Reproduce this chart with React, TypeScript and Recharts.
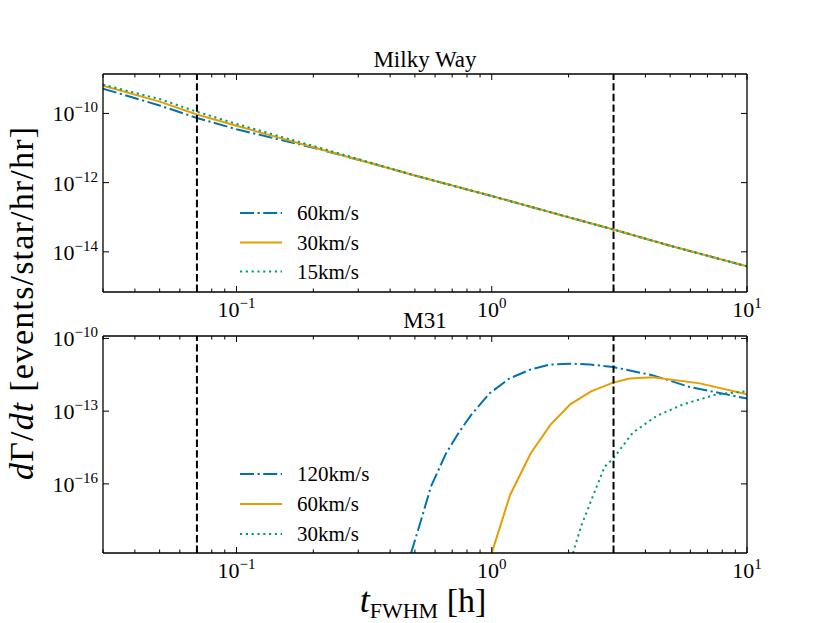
import React from "react";
import { LineChart, Line, XAxis, YAxis, ReferenceLine } from "recharts";

const FONT = "Liberation Serif, Times New Roman, DejaVu Serif, Noto Serif, serif";

// x axis: t_FWHM [h]
const tRange: [number, number] = [0.03, 10];
const xTicks = [
  0.03, 0.04, 0.05, 0.06, 0.07, 0.08, 0.09, 0.1,
  0.2, 0.3, 0.4, 0.5, 0.6, 0.7, 0.8, 0.9, 1,
  2, 3, 4, 5, 6, 7, 8, 9, 10,
];
const cutTimes = [0.07, 3];

// Milky Way panel
const mwDomain: [number, number] = [6.9e-16, 1.38e-9];
const mwTicks = [1e-14, 1e-12, 1e-10];
const mwNames = ["60km/s", "30km/s", "15km/s"];
const mwT = [0.03, 0.05, 0.07, 0.1, 0.15, 0.2, 0.3, 0.5, 1, 2, 3, 5, 10];
const mw60 = [5.2e-10, 1.7e-10, 7.4e-11, 3.5e-11, 1.7e-11, 1.02e-11, 4.6e-12, 1.6e-12, 4.1e-13, 1.0e-13, 4.4e-14, 1.5e-14, 3.8e-15];
const mw30 = [6.3e-10, 2.2e-10, 9.3e-11, 4.4e-11, 1.9e-11, 1.05e-11, 4.6e-12, 1.6e-12, 4.1e-13, 1.0e-13, 4.4e-14, 1.5e-14, 3.8e-15];
const mw15 = [6.8e-10, 2.6e-10, 1.12e-10, 5.0e-11, 2.1e-11, 1.15e-11, 4.8e-12, 1.6e-12, 4.1e-13, 1.0e-13, 4.4e-14, 1.5e-14, 3.8e-15];

// M31 panel
const m31Domain: [number, number] = [1.41e-19, 1.26e-10];
const m31Ticks = [1e-16, 1e-13, 1e-10];
const m31Names = ["120km/s", "60km/s", "30km/s"];
const m31T120 = [0.483, 0.52, 0.578, 0.662, 0.746, 0.83, 0.98, 1.17, 1.41, 1.68, 2.02, 2.42, 2.99, 4.28, 5.96, 10];
const m31R120 = [1.4e-19, 1.8e-18, 7.8e-17, 1.8e-15, 1.4e-14, 6.9e-14, 5.4e-13, 2.2e-12, 5.1e-12, 8.3e-12, 9.1e-12, 8.5e-12, 6.6e-12, 3.0e-12, 1.0e-12, 3.3e-13];
const m31T60 = [1.0, 1.18, 1.42, 1.7, 2.03, 2.45, 2.99, 3.47, 4.28, 6.53, 10];
const m31R60 = [1.4e-19, 3.5e-17, 1.8e-15, 2.8e-14, 1.9e-13, 6.6e-13, 1.5e-12, 2.2e-12, 2.5e-12, 1.4e-12, 5.0e-13];
const m31T30 = [2.08, 2.24, 2.49, 2.77, 2.99, 3.57, 4.41, 5.61, 7.59, 10];
const m31R30 = [1.4e-19, 1.8e-18, 3.1e-17, 5.2e-16, 1.1e-15, 1.3e-14, 6.2e-14, 1.9e-13, 4.9e-13, 6.6e-13];

// fast / mid / slow styles
const colors = ["#0072B2", "#E69F00", "#009E73"];
const dashes = ["14 3.5 2.2 3.5", undefined, "2.2 3.6"];

const pairs = (xs: number[], ys: number[]) => xs.map((x, i) => ({ x, y: ys[i] }));

const mwSeries = [pairs(mwT, mw60), pairs(mwT, mw30), pairs(mwT, mw15)];
const m31Series = [pairs(m31T120, m31R120), pairs(m31T60, m31R60), pairs(m31T30, m31R30)];

const axisStyle = { stroke: "#000", strokeWidth: 1.3 };

const isDecade = (v: number) => {
  const l = Math.log10(v);
  return Math.abs(l - Math.round(l)) < 1e-6;
};

function PowLabel({ x, y, v, anchor }: any) {
  const e = Math.round(Math.log10(v));
  return (
    <text x={x} y={y} textAnchor={anchor} style={{ fontFamily: FONT }} fontSize={22} fill="#000">
      10
      <tspan dy={-9} fontSize={15}>
        {e < 0 ? "\u2212" + Math.abs(e) : String(e)}
      </tspan>
    </text>
  );
}

const xTick = (side: "bottom" | "top") => (props: any) => {
  const { x, y, payload } = props;
  const v = payload.value;
  const major = isDecade(v);
  const len = major ? 6 : 3.5;
  const d = side === "bottom" ? -1 : 1;
  return (
    <g key={side + v}>
      <line x1={x} x2={x} y1={y} y2={y + d * len} stroke="#000" strokeWidth={1} />
      {side === "bottom" && major && <PowLabel x={x} y={y + 25} v={v} anchor="middle" />}
    </g>
  );
};

const yTick = (side: "left" | "right") => (props: any) => {
  const { x, y, payload } = props;
  const v = payload.value;
  const d = side === "left" ? 1 : -1;
  return (
    <g key={side + v}>
      <line x1={x} x2={x + d * 6} y1={y} y2={y} stroke="#000" strokeWidth={1} />
      {side === "left" && <PowLabel x={x - 5} y={y + 8} v={v} anchor="end" />}
    </g>
  );
};

function Panel({ top, height, marginTop, bottomAxis, yDomain, yTicks, series }: any) {
  return (
    <div style={{ position: "absolute", left: 0, top, width: 830, height }}>
      <LineChart width={830} height={height} margin={{ top: marginTop, right: 63, bottom: 0, left: 0 }}>
        <XAxis xAxisId="b" type="number" scale="log" dataKey="x" domain={tRange} allowDataOverflow
          ticks={xTicks} interval={0} tickLine={false} tickSize={0} tickMargin={0}
          height={bottomAxis} axisLine={axisStyle} tick={xTick("bottom")} />
        <XAxis xAxisId="t" orientation="top" type="number" scale="log" dataKey="x" domain={tRange} allowDataOverflow
          ticks={xTicks} interval={0} tickLine={false} tickSize={0} tickMargin={0}
          height={10} axisLine={axisStyle} tick={xTick("top")} />
        <YAxis yAxisId="l" type="number" scale="log" domain={yDomain} allowDataOverflow
          ticks={yTicks} interval={0} tickLine={false} tickSize={0} tickMargin={0}
          width={103} axisLine={axisStyle} tick={yTick("left")} />
        <YAxis yAxisId="r" orientation="right" type="number" scale="log" domain={yDomain} allowDataOverflow
          ticks={yTicks} interval={0} tickLine={false} tickSize={0} tickMargin={0}
          width={20} axisLine={axisStyle} tick={yTick("right")} />
        {series.map((data: any, i: number) => (
          <Line key={i} xAxisId="b" yAxisId="l" data={data} dataKey="y" type="linear"
            stroke={colors[i]} strokeWidth={2} strokeDasharray={dashes[i]}
            dot={false} activeDot={false} isAnimationActive={false} />
        ))}
        {cutTimes.map((c) => (
          <ReferenceLine key={c} xAxisId="b" yAxisId="l" x={c} stroke="#000"
            strokeWidth={2} strokeDasharray="7.4 3.2" />
        ))}
      </LineChart>
    </div>
  );
}

function LegendBlock({ names, rows }: { names: string[]; rows: number[] }) {
  return (
    <g>
      {names.map((n, i) => (
        <g key={n}>
          <line x1={240} x2={282} y1={rows[i]} y2={rows[i]} stroke={colors[i]} strokeWidth={2}
            strokeDasharray={dashes[i]} />
          <text x={297} y={rows[i] + 7} style={{ fontFamily: FONT }} fontSize={21} fill="#000">{n}</text>
        </g>
      ))}
    </g>
  );
}

export default function App() {
  return (
    <div style={{ position: "absolute", left: 0, top: 0, width: 830, height: 623, background: "#fff", fontFamily: FONT }}>
      <Panel top={0} height={330} marginTop={64} bottomAxis={38} yDomain={mwDomain} yTicks={mwTicks} series={mwSeries} />
      <Panel top={300} height={300} marginTop={26} bottomAxis={47} yDomain={m31Domain} yTicks={m31Ticks} series={m31Series} />
      <svg width={830} height={623} style={{ position: "absolute", left: 0, top: 0, pointerEvents: "none", fontFamily: FONT }}>
        <text x={425} y={67} textAnchor="middle" fontSize={23}>Milky Way</text>
        <text x={425} y={328} textAnchor="middle" fontSize={23}>M31</text>
        <LegendBlock names={mwNames} rows={[213, 242.5, 271.5]} />
        <LegendBlock names={m31Names} rows={[474, 504, 534]} />
        <text transform="translate(33,303.5) rotate(-90)" textAnchor="middle" fontSize={34}
          textLength={353} lengthAdjust="spacing">
          <tspan fontStyle="italic">d</tspan>Γ/<tspan fontStyle="italic">dt</tspan> [events/star/hr/hr]
        </text>
        <text x={423} y={612} textAnchor="middle" fontSize={34}>
          <tspan fontStyle="italic" fontSize={36}>t</tspan>
          <tspan fontSize={22} dy={6}>FWHM</tspan>
          <tspan dy={-6}> [h]</tspan>
        </text>
      </svg>
    </div>
  );
}
